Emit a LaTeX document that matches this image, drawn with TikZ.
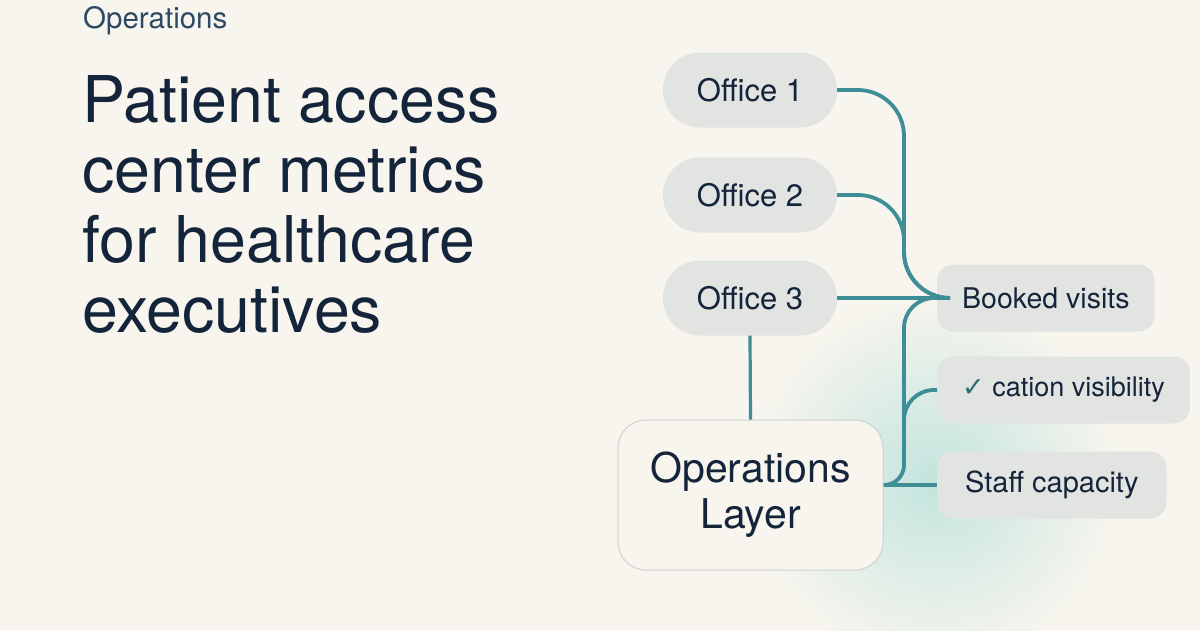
\documentclass[tikz,border=0pt]{standalone}
\usepackage{fontspec}
\setmainfont{TeX Gyre Heros}
\newfontfamily\symfont{DejaVu Sans}
\usepackage{tikz}

\definecolor{bg}{HTML}{F7F5EE}
\definecolor{ink}{HTML}{14243A}
\definecolor{kicker}{HTML}{2C4A63}
\definecolor{teal}{HTML}{3F8D96}
\definecolor{darkteal}{HTML}{2D6B73}
\definecolor{pill}{HTML}{E2E4E1}
\definecolor{glow}{HTML}{C3E4DE}
\definecolor{edge}{HTML}{CDD2CE}

\begin{document}
\begin{tikzpicture}[x=1pt,y=-1pt,
            office/.style={fill=pill,rounded corners=37pt,minimum width=174pt,
                minimum height=75pt,text=ink,font=\fontsize{31}{36}\selectfont},
            metric/.style={fill=pill,rounded corners=16pt,minimum height=67pt,
                text=ink,font=\fontsize{28.5}{33}\selectfont,anchor=west,
                inner xsep=25pt},
            link/.style={draw=teal,line width=3.8pt,rounded corners=30pt}]
            \useasboundingbox (0,0) rectangle (1200,630);
            \fill[bg] (0,0) rectangle (1200,630);
            \shade[inner color=glow,outer color=bg] (935,480) circle (185);

            \node[anchor=base west,inner sep=0pt,text=kicker,
                font=\fontsize{29.5}{32}\selectfont] (kicker) at (83,28) {Operations};
            \node[anchor=base west,inner sep=0pt,align=left,text=ink,
                font=\fontsize{64.5}{70}\selectfont] (title) at (82,332)
                {Patient access\\center metrics\\for healthcare\\executives};

            \node[office] (o1) at (750,90) {Office 1};
            \node[office] (o2) at (750,195) {Office 2};
            \node[office] (o3) at (750,298) {Office 3};

            \node[metric] (booked) at (937,298) {Booked visits};
            \node[metric,font=\fontsize{27}{31}\selectfont] (cation) at (937,390)
                {{\symfont\color{darkteal}\fontsize{27}{30}\selectfont ✓} cation visibility};
            \node[metric,inner xsep=28pt,font=\fontsize{29}{33}\selectfont] (staff)
                at (937,485) {Staff capacity};

            \node[draw=edge,line width=1pt,fill=bg,rounded corners=28pt,
                minimum width=265pt,minimum height=150pt,align=center,text=ink,
                font=\fontsize{41}{46}\selectfont] (layer) at (750.5,495)
                {Operations\\Layer};

            \coordinate (jn) at (904,298);
            \coordinate (jlow) at (904,440);

            \draw[link,rounded corners=46pt] (o1.east) -| (jn) -- (booked.west);
            \draw[link,rounded corners=46pt] (o2.east) -| (jn) -- (booked.west);
            \draw[link] (o3.east) -- (booked.west);
            \draw[link] (booked.west) -| (jlow);
            \draw[link,rounded corners=20pt] (jlow) |- (layer.east |- staff.west);
            \draw[link] (cation.west) -| (jlow);
            \draw[link] (layer.east |- staff.west) -- (staff.west);
            \draw[link,line width=3.2pt] (o3.south) -- (layer.north);
        \end{tikzpicture}
\end{document}
